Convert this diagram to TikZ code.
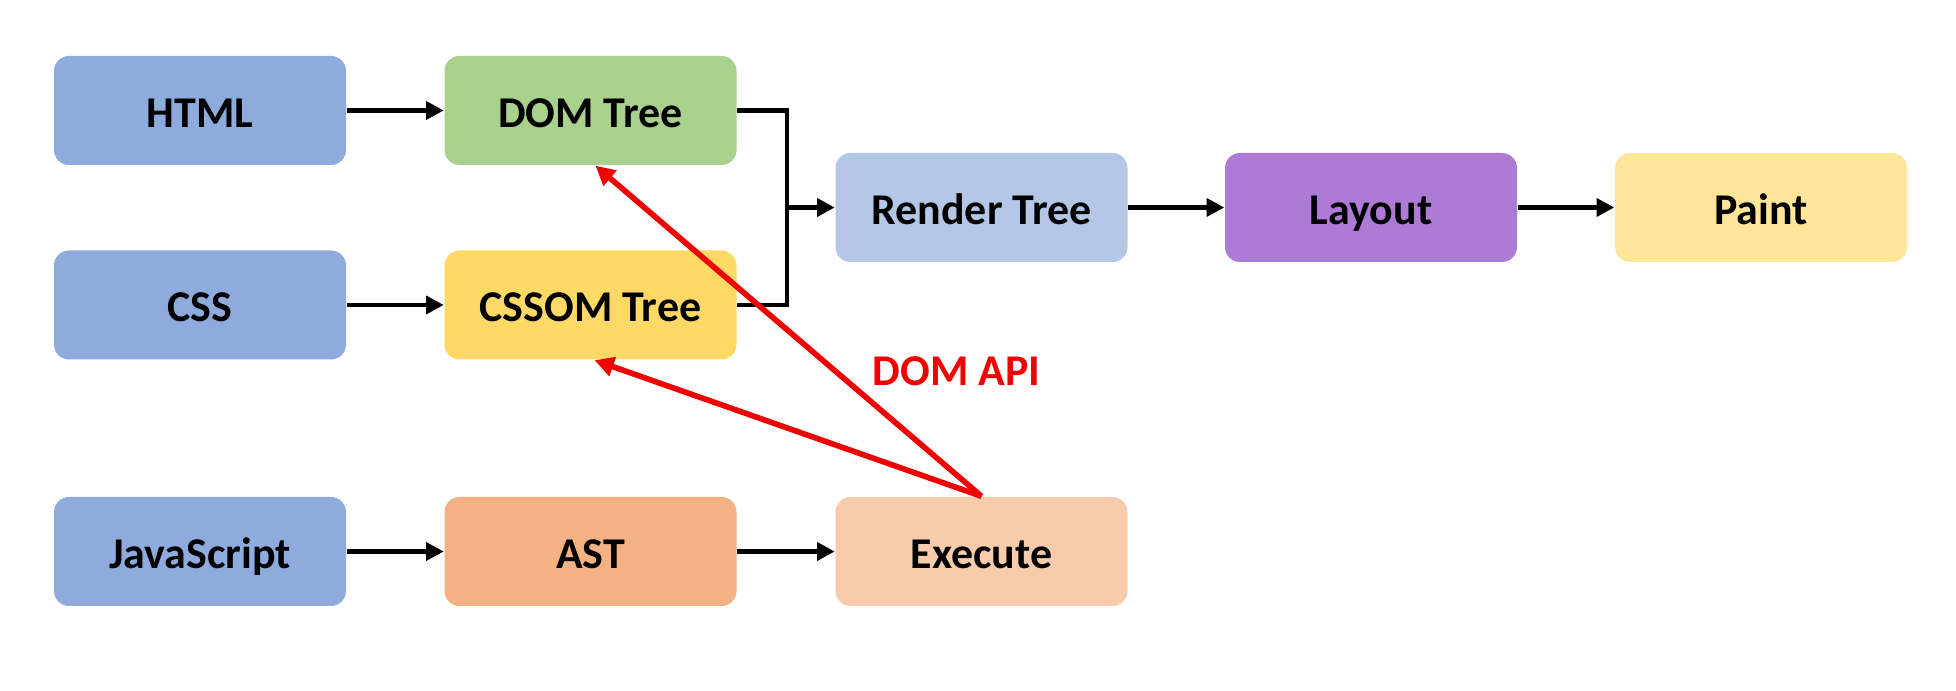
\documentclass[tikz,border=0pt]{standalone}
\usepackage{fontspec}
\setmainfont{Carlito}
\definecolor{srcblue}{HTML}{8FAADC}
\definecolor{domgreen}{HTML}{A9D18E}
\definecolor{cssomyellow}{HTML}{FFD966}
\definecolor{renderblue}{HTML}{B4C7E7}
\definecolor{layoutpurple}{HTML}{AD7BD5}
\definecolor{paintyellow}{HTML}{FFE699}
\definecolor{astorange}{HTML}{F4B183}
\definecolor{execpeach}{HTML}{F8CBAD}
\definecolor{apired}{HTML}{F00000}
\usetikzlibrary{arrows.meta}
\tikzset{
  box/.style={fill=#1, rounded corners=0.15cm, minimum width=2.92cm, minimum height=1.09cm,
    inner sep=0pt, text height=12pt, text depth=2.6pt, font=\bfseries\fontsize{12.5}{14}\selectfont},
  flow/.style={line width=1.4pt, -{Triangle[length=5pt,width=5pt]}},
  api/.style={apired, line width=1.6pt, -{Triangle[length=5.5pt,width=5.5pt]}}
}

\begin{document}
\begin{tikzpicture}
  \useasboundingbox (0,0) rectangle (19.56,-6.91);
  % Boxes
  \node[box=srcblue] (html) at (2.00,-1.105) {HTML};
  \node[box=domgreen] (dom) at (5.905,-1.105) {DOM Tree};
  \node[box=srcblue] (css) at (2.00,-3.05) {CSS};
  \node[box=cssomyellow] (cssom) at (5.905,-3.05) {CSSOM Tree};
  \node[box=renderblue] (render) at (9.815,-2.075) {Render Tree};
  \node[box=layoutpurple] (layout) at (13.71,-2.075) {Layout};
  \node[box=paintyellow] (paint) at (17.61,-2.075) {Paint};
  \node[box=srcblue] (js) at (2.00,-5.515) {JavaScript};
  \node[box=astorange] (ast) at (5.905,-5.515) {AST};
  \node[box=execpeach] (exec) at (9.815,-5.515) {Execute};

  % Arrows
  \coordinate (join) at (7.87,-2.075);
  \draw[flow] (html) -- (dom);
  \draw[flow] (css) -- (cssom);
  \draw[line width=1.4pt] (dom.east) -| (join) |- (cssom.east);
  \draw[flow] (join) -- (render);
  \draw[flow] (render) -- (layout);
  \draw[flow] (layout) -- (paint);
  \draw[flow] (js) -- (ast);
  \draw[flow] (ast) -- (exec);

  % DOM API
  \draw[api] (exec.north) -- ([xshift=0.05cm]dom.south);
  \draw[api] (exec.north) -- ([xshift=0.04cm]cssom.south);
  \node[apired, font=\bfseries\fontsize{12.5}{14}\selectfont] (apilabel) at (9.565,-3.71) {DOM API};
\end{tikzpicture}
\end{document}
